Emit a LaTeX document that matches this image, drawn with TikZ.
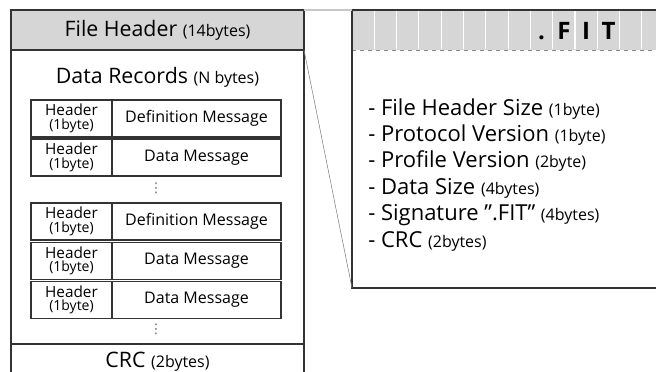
\documentclass[tikz,border=0pt]{standalone}
\usepackage{fontspec}
\setmainfont{Open Sans}
\newfontfamily\symfont{DejaVu Sans}
\usepackage{tikz}
\usetikzlibrary{positioning}
\tikzset{
  box-line/.style={draw=black!80, line width=0.9pt},
  hdr-fill/.style={fill=black!16},
  hdr-box/.style={box-line, hdr-fill, minimum width=293*0.75pt, minimum height=40*0.75pt, inner sep=0pt, outer sep=0pt, font=\fontsize{16}{18}\selectfont},
  rec-hdr/.style={draw=black!80, line width=0.8pt, minimum width=81*0.75pt, minimum height=37*0.75pt, inner sep=0pt, outer sep=0pt, align=center, font=\fontsize{11.5}{11}\selectfont},
  rec-msg/.style={draw=black!80, line width=0.8pt, minimum width=169*0.75pt, minimum height=37*0.75pt, inner sep=0pt, outer sep=0pt, font=\fontsize{12}{14}\selectfont},
  big-label/.style={inner sep=0pt, font=\fontsize{16}{18}\selectfont},
  dots/.style={inner sep=0pt, text=black!60, font=\symfont\fontsize{10}{10}\selectfont},
  fit-box/.style={box-line, minimum width=330*0.75pt, minimum height=278*0.75pt, inner sep=0pt, outer sep=0pt},
  fit-char/.style={anchor=base, inner sep=0pt, font=\fontsize{18}{20}\selectfont\bfseries},
  field/.style={anchor=base west, inner sep=0pt, font=\fontsize{16.5}{18}\selectfont},
  zoom-line/.style={draw=black!50, line width=0.4pt}
}
\newcommand{\bytesz}[1]{{\fontsize{12}{14}\selectfont #1}}

\begin{document}
\begin{tikzpicture}[x=0.75pt, y=-0.75pt]
    \useasboundingbox (0,0) rectangle (656,371);

    % --- Left side: file layout ---
    \node[hdr-box] (fhdr) at (157.5,30) {File Header \bytesz{(14bytes)}};
    \draw[box-line] (11,50) -- (11,380);
    \draw[box-line] (304,50) -- (304,380);
    \draw[box-line] (11,344) -- (304,344);
    \node[big-label] (drec) at (157.5,77) {Data Records \bytesz{(N bytes)}};
    % records
    \foreach \y/\msg [count=\i] in {118.5/Definition Message, 157.5/Data Message, 221.5/Definition Message, 261/Data Message, 300/Data Message}{
        \node[rec-hdr] (h\i) at (71.5,\y) {Header\\[-1pt]{\fontsize{10.5}{11}\selectfont(1byte)}};
        \node[rec-msg, right=0pt of h\i] (m\i) {\msg};
    }
    \node[dots] (dots1) at (156,188) {⋮};
    \node[dots] (dots2) at (156,329) {⋮};
    \node[big-label] (crc) at (157.5,362) {CRC \bytesz{(2bytes)}};

    % --- Right side: file header fields ---
    \fill[hdr-fill] (352,10) rectangle (680,50);
    \foreach \k in {1,...,14}
        \draw[white, line width=0.8pt] ({352+22.3*\k},11) -- ({352+22.3*\k},49);
    \draw[black!45, dashed] (352,50) -- (680,50);
    \node[fit-box, anchor=north west] (fit) at (352,10) {};
    \foreach \c [count=\k from 8] in {., F, I, T}
        \node[fit-char] (c\k) at ({352+22.3*\k+11.15},39) {\c};
    \foreach \t/\b [count=\i from 0] in {File Header Size/(1byte), Protocol Version/(1byte), Profile Version/(2byte), Data Size/(4bytes), Signature ”.FIT”/(4bytes), CRC/(2bytes)}
        \node[field] (f\i) at (368,{115+26.4*\i}) {- \t\ \bytesz{\b}};

    % zoom lines
    \draw[black!22, line width=1.5pt] (fhdr.north east) -- (fit.north west);
    \draw[zoom-line] (fhdr.south east) -- (fit.south west);
\end{tikzpicture}
\end{document}
